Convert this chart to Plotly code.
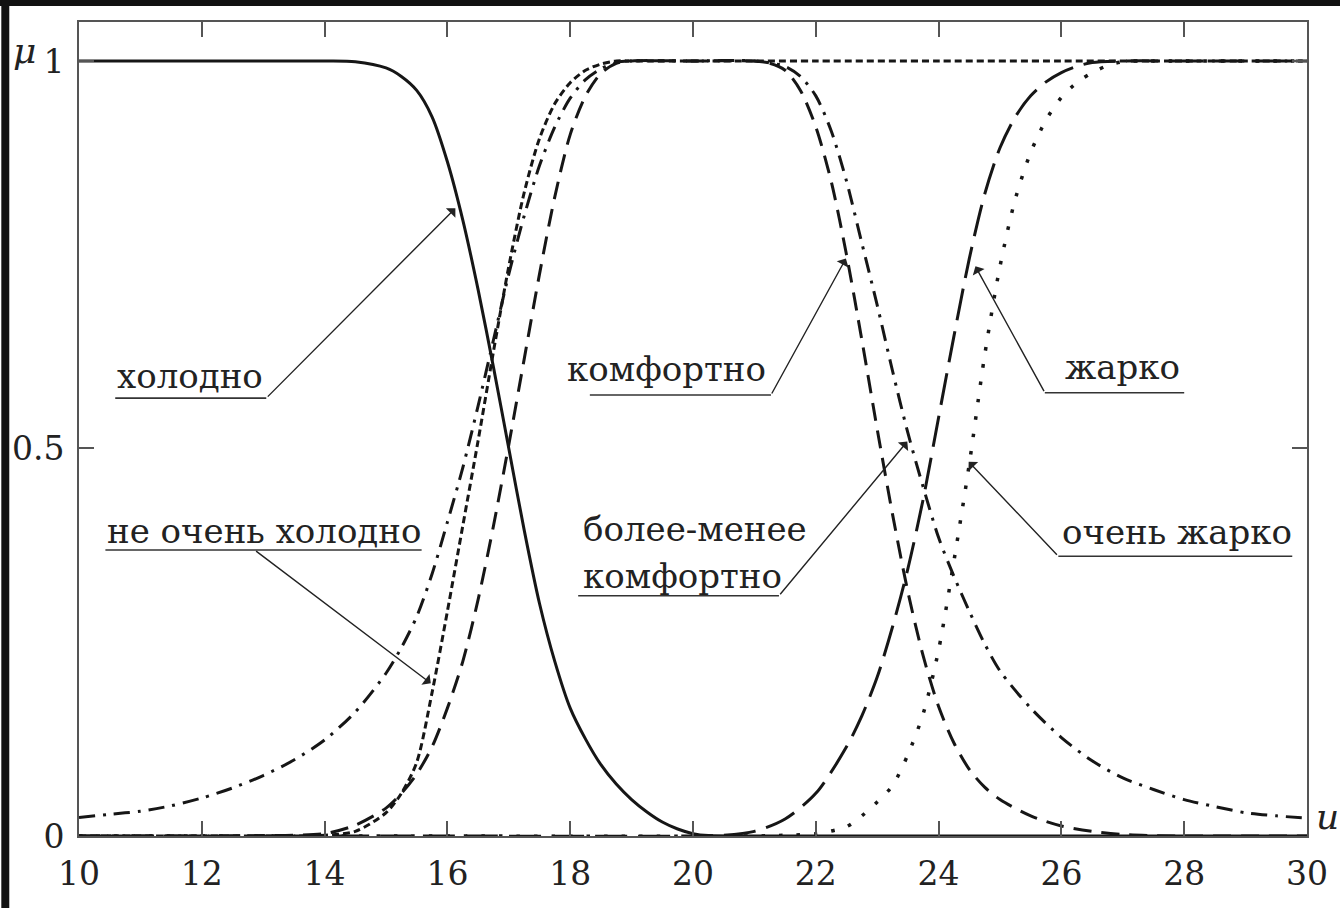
import plotly.graph_objects as go

# ---------------- data ----------------
cold_u = [10, 12, 14, 14.5, 15, 15.25, 15.5, 15.75, 16, 16.25, 16.5, 16.75, 17, 17.25, 17.5,
          17.75, 18, 18.25, 18.5, 18.75, 19, 19.25, 19.5, 19.75, 20, 20.25, 21, 24, 27, 30]
cold_mu = [1, 1, 1, 0.999, 0.991, 0.98, 0.962, 0.928, 0.87, 0.795, 0.705, 0.605, 0.5, 0.395, 0.30,
           0.225, 0.165, 0.125, 0.092, 0.067, 0.047, 0.031, 0.018, 0.009, 0.003, 0.0005, 0, 0, 0, 0]

notvery_cold_u = [10, 12, 14, 14.5, 15, 15.25, 15.5, 15.75, 16, 16.25, 16.5, 16.75, 17, 17.25, 17.5,
                  17.75, 18, 18.25, 18.5, 18.75, 19, 20, 22, 24, 26, 28, 30]
notvery_cold_mu = [0, 0, 0.001, 0.006, 0.03, 0.055, 0.095, 0.185, 0.29, 0.40, 0.51, 0.625, 0.735, 0.83, 0.90,
                   0.945, 0.972, 0.988, 0.996, 1, 1, 1, 1, 1, 1, 1, 1]

comfort_u = [10, 12, 13, 13.5, 14, 14.5, 15, 15.25, 15.5, 15.75, 16, 16.25, 16.5, 16.75, 17, 17.25, 17.5,
             17.75, 18, 18.25, 18.5, 18.75, 19, 20, 21, 21.25, 21.5, 21.75, 22, 22.25, 22.5, 22.75, 23,
             23.25, 23.5, 23.75, 24, 24.25, 24.5, 24.75, 25, 25.5, 26, 26.5, 27, 27.5, 28, 30]
comfort_mu = [0, 0, 0.0005, 0.001, 0.003, 0.014, 0.036, 0.055, 0.08, 0.115, 0.165, 0.225, 0.305, 0.40, 0.505,
              0.615, 0.725, 0.825, 0.905, 0.955, 0.984, 0.997, 1, 1, 1, 0.997, 0.988, 0.962, 0.915, 0.845,
              0.75, 0.64, 0.525, 0.415, 0.315, 0.232, 0.167, 0.12, 0.086, 0.063, 0.047, 0.026, 0.013, 0.006,
              0.002, 0.0005, 0, 0]

moreless_u = [10, 10.5, 11, 11.5, 12, 12.5, 13, 13.5, 14, 14.5, 15, 15.25, 15.5, 15.75, 16,
              16.25, 16.5, 16.75, 17, 17.25, 17.5, 17.75, 18, 18.25, 18.5, 18.75, 19, 20, 21, 21.5, 21.75,
              22, 22.25, 22.5, 22.75, 23, 23.25, 23.5, 23.75, 24, 24.25, 24.5, 24.75, 25, 25.5, 26, 26.5,
              27, 27.5, 28, 28.5, 29, 29.5, 30]
moreless_mu = [0.024, 0.028, 0.032, 0.039, 0.049, 0.062, 0.078, 0.098, 0.124, 0.16, 0.21, 0.243,
               0.283, 0.338, 0.405, 0.475, 0.555, 0.64, 0.725, 0.80, 0.865, 0.915, 0.952, 0.976, 0.99, 0.998,
               1, 1, 1, 0.993, 0.98, 0.955, 0.91, 0.845, 0.765, 0.685, 0.60, 0.52, 0.45, 0.385, 0.335, 0.29,
               0.248, 0.213, 0.165, 0.127, 0.097, 0.075, 0.06, 0.047, 0.038, 0.03, 0.026, 0.023]

hot_u = [10, 15, 20, 20.5, 21, 21.5, 22, 22.5, 22.75, 23, 23.25, 23.5, 23.75, 24, 24.25, 24.5, 24.75, 25,
         25.25, 25.5, 25.75, 26, 26.25, 26.5, 27, 28, 30]
hot_mu = [0, 0, 0, 0.001, 0.006, 0.022, 0.055, 0.115, 0.155, 0.205, 0.27, 0.345, 0.435, 0.54, 0.645, 0.745,
          0.828, 0.888, 0.928, 0.955, 0.973, 0.985, 0.993, 0.998, 1, 1, 1]

veryhot_u = [10, 15, 21, 21.5, 22, 22.5, 22.75, 23, 23.25, 23.5, 23.75, 24, 24.25, 24.5, 24.75, 25, 25.25,
             25.5, 25.75, 26, 26.25, 26.5, 26.75, 27, 28, 30]
veryhot_mu = [0, 0, 0, 0.001, 0.003, 0.012, 0.026, 0.044, 0.065, 0.105, 0.158, 0.24, 0.355, 0.48, 0.62, 0.735,
              0.822, 0.882, 0.924, 0.953, 0.972, 0.985, 0.994, 0.999, 1, 1]

x_ticks = [10, 12, 14, 16, 18, 20, 22, 24, 26, 28, 30]
y_ticks = [0, 0.5, 1]
y_ticktext = ["0", "0.5", "1"]

# labels: (text, x_left, y_center)
labels = [
    ("холодно", 10.59, 0.594),
    ("не очень холодно", 10.43, 0.394),
    ("комфортно", 17.92, 0.603),
    ("более-менее", 18.18, 0.396),
    ("комфортно", 18.18, 0.335),
    ("жарко", 26.03, 0.605),
    ("очень жарко", 25.98, 0.392),
]
# underlines: (x0, x1, y)
underlines = [
    (10.59, 13.05, 0.565),
    (10.43, 15.58, 0.369),
    (18.32, 21.27, 0.569),
    (18.13, 21.40, 0.310),
    (25.73, 28.00, 0.572),
    (25.95, 29.76, 0.361),
]
# leaders: (tail_x, tail_y, head_x, head_y)
leaders = [
    (13.05, 0.565, 16.13, 0.81),
    (12.86, 0.369, 15.73, 0.197),
    (21.27, 0.569, 22.49, 0.745),
    (21.40, 0.310, 23.49, 0.509),
    (25.73, 0.572, 24.60, 0.735),
    (25.95, 0.361, 24.49, 0.483),
]

INK = "#161616"
FONT = "DejaVu Serif"

fig = go.Figure()
series = [
    (cold_u, cold_mu, "solid", 3.0),
    (notvery_cold_u, notvery_cold_mu, "7px,4px", 3.0),
    (comfort_u, comfort_mu, "18px,10px", 3.0),
    (moreless_u, moreless_mu, "16px,8px,3px,8px", 3.0),
    (hot_u, hot_mu, "32px,11px", 3.0),
    (veryhot_u, veryhot_mu, "3.5px,14px", 3.5),
]
for u, mu, dash, w in series:
    fig.add_trace(go.Scatter(x=u, y=mu, mode="lines",
                             line=dict(color=INK, width=w, dash=dash, shape="spline", smoothing=0.8),
                             showlegend=False, hoverinfo="skip"))

annotations = []
for text, x, y in labels:
    annotations.append(dict(x=x, y=y, xref="x", yref="y", text=text, showarrow=False,
                            xanchor="left", yanchor="middle",
                            font=dict(family=FONT, size=34, color="#222")))
for tx, ty, hx, hy in leaders:
    annotations.append(dict(x=hx, y=hy, ax=tx, ay=ty, xref="x", yref="y", axref="x", ayref="y",
                            text="", showarrow=True, arrowhead=1, arrowsize=1.6, arrowwidth=1.4,
                            arrowcolor="#222", standoff=0, startstandoff=0))
annotations.append(dict(x=-0.0446, y=0.965, xref="paper", yref="paper", text="<i>μ</i>", showarrow=False,
                        xanchor="center", yanchor="middle", font=dict(family=FONT, size=36, color="#222")))
annotations.append(dict(x=1.0165, y=0.024, xref="paper", yref="paper", text="<i>u</i>", showarrow=False,
                        xanchor="center", yanchor="middle", font=dict(family=FONT, size=36, color="#222")))

shapes = []
for x0, x1, y in underlines:
    shapes.append(dict(type="line", xref="x", yref="y", x0=x0, x1=x1, y0=y, y1=y,
                       line=dict(color="#333", width=1.6)))
# black scan borders (top and left)
shapes.append(dict(type="rect", xref="paper", yref="paper", x0=-0.08, x1=1.05, y0=1 + 16 / 814,
                   y1=1 + 23 / 814, fillcolor="#111", line=dict(width=0), layer="above"))
shapes.append(dict(type="rect", xref="paper", yref="paper", x0=-78 / 1233, x1=-70 / 1233, y0=-0.1,
                   y1=1.03, fillcolor="#111", line=dict(width=0), layer="above"))

fig.update_layout(
    width=1340, height=908,
    margin=dict(l=77, r=30, t=22, b=72),
    paper_bgcolor="white", plot_bgcolor="white",
    annotations=annotations, shapes=shapes,
    xaxis=dict(range=[10, 30], tickvals=x_ticks, ticks="inside", ticklen=15, tickwidth=1.6,
               tickcolor="#555", showline=True, linecolor="#555", linewidth=2, mirror="ticks",
               showgrid=False, zeroline=False, ticklabelstandoff=7,
               tickfont=dict(family=FONT, size=33, color="#222")),
    yaxis=dict(range=[0, 1.0503], tickvals=y_ticks, ticktext=y_ticktext, ticks="inside", ticklen=15,
               tickwidth=1.6, tickcolor="#555", showline=True, linecolor="#555", linewidth=2,
               mirror="ticks", showgrid=False, zeroline=False, ticklabelstandoff=6,
               tickfont=dict(family=FONT, size=33, color="#222")),
)

fig.write_html("out.html", config={"displayModeBar": False},
               post_script="document.body.style.margin='0px';document.body.style.overflow='hidden';")
